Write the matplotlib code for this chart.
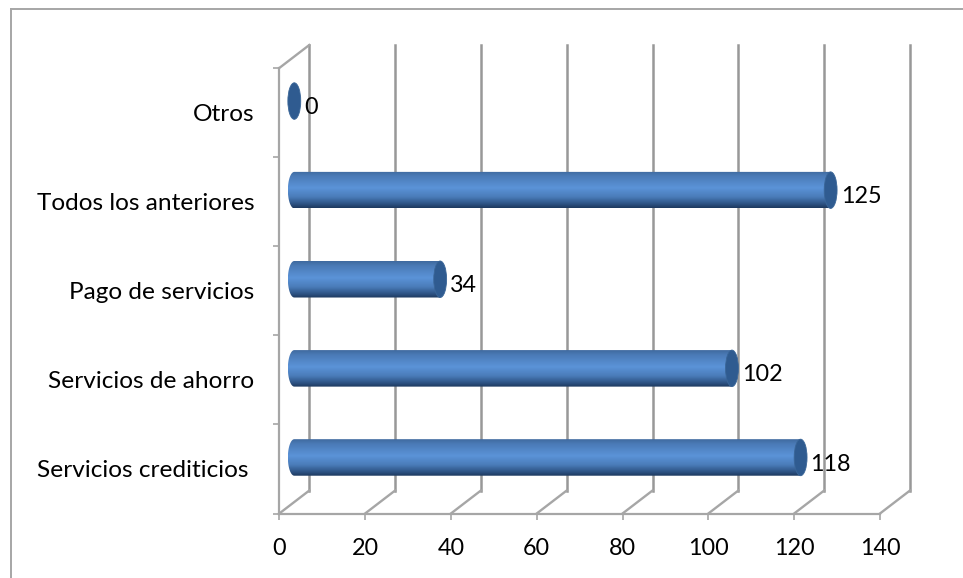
import numpy as np
import matplotlib
matplotlib.use("Agg")
import matplotlib.pyplot as plt
from matplotlib.colors import LinearSegmentedColormap
from matplotlib.patches import Ellipse, Polygon
from matplotlib.transforms import Affine2D, IdentityTransform

plt.rcParams['font.family'] = ['Lato', 'DejaVu Sans']

# categorias de abajo hacia arriba
categorias = ["Servicios crediticios ", "Servicios de ahorro", "Pago de servicios",
              "Todos los anteriores", "Otros"]
valores = [118, 102, 34, 125, 0]
ticks_x = [0, 20, 40, 60, 80, 100, 120, 140]

W, H = 963, 578
fig = plt.figure(figsize=(W / 100, H / 100), dpi=100)
x0, x1, y_sup, y_inf = 279.3, 880, 68, 513.5
ax = fig.add_axes([x0 / W, 1 - y_inf / H, (x1 - x0) / W, (y_inf - y_sup) / H])
ax.patch.set_visible(False)

y_min, y_max = -0.5, len(categorias) - 0.5
ax.set_xlim(0, 140)
ax.set_ylim(y_min, y_max)

gris = "#a6a6a6"
gris_osc = "#989898"

# profundidad de la caja 3d, en pixeles
prof_x, prof_y = 30, 23
fondo = ax.transData + Affine2D().translate(prof_x, prof_y)
medio = ax.transData + Affine2D().translate(prof_x / 2, prof_y / 2)
pixeles = IdentityTransform()

for t in ticks_x:
    # pared del fondo y piso
    ax.plot([t, t], [y_min, y_max], color=gris_osc, lw=1.8, transform=fondo, clip_on=False, zorder=1)
    px, py = ax.transData.transform((t, y_min))
    ax.plot([px, px + prof_x], [py, py + prof_y], color=gris, lw=1.7,
            transform=pixeles, clip_on=False, zorder=1)

# diagonal superior izquierda
px, py = ax.transData.transform((0, y_max))
ax.plot([px, px + prof_x], [py, py + prof_y], color=gris, lw=1.7, transform=pixeles, clip_on=False, zorder=1)

# degradado del cilindro
cmap = LinearSegmentedColormap.from_list("cil", [
    (0.0, "#3f6a9f"), (0.12, "#4a7ab6"), (0.45, "#5b93d8"), (0.7, "#4a7cb9"),
    (0.88, "#2f5688"), (1.0, "#1e3a60")])
grad = np.linspace(0, 1, 64).reshape(-1, 1)

semi_alto = 0.205
semi_ancho = 1.5
th = np.linspace(np.pi / 2, 3 * np.pi / 2, 40)

for i, v in enumerate(valores):
    if v > 0:
        xs = np.concatenate([semi_ancho * np.cos(th), [v, v]])
        ys = np.concatenate([i + semi_alto * np.sin(th), [i - semi_alto, i + semi_alto]])
        forma = Polygon(np.column_stack([xs, ys]), closed=True, facecolor="none", edgecolor="none",
                        transform=medio, zorder=3)
        ax.add_patch(forma)
        img = ax.imshow(grad, cmap=cmap, aspect="auto", origin="upper", zorder=3,
                        extent=(-semi_ancho, v, i - semi_alto, i + semi_alto), transform=medio)
        img.set_clip_path(forma)
    # tapa del cilindro
    ax.add_patch(Ellipse((v, i), 2 * semi_ancho, 2 * semi_alto, facecolor="#2f5b90", edgecolor="#3a6698",
                         lw=0.6, transform=medio, zorder=4, clip_on=False))
    ax.annotate(str(v), xy=(v, i), xytext=(18, 3.5), textcoords="offset points", xycoords="data",
                fontsize=16.8, color="black", va="center", ha="left", zorder=5)

ax.set_xlim(0, 140)
ax.set_ylim(y_min, y_max)

for lado in ["top", "right"]:
    ax.spines[lado].set_visible(False)
for lado in ["left", "bottom"]:
    ax.spines[lado].set_color(gris)
    ax.spines[lado].set_linewidth(1.6)

ax.set_xticks(ticks_x)
ax.tick_params(axis="x", length=4.5, width=1.2, color=gris, labelsize=16.8, pad=13)
ax.set_yticks(np.arange(y_min, y_max + 1))
ax.set_yticklabels([])
ax.set_yticks(np.arange(len(categorias)), minor=True)
ax.set_yticklabels(categorias, minor=True, fontsize=17.6)
ax.tick_params(axis="y", which="major", length=4.5, width=1.2, color=gris)
ax.tick_params(axis="y", which="minor", length=0, pad=18)

# marco exterior del grafico
fig.add_artist(plt.Line2D([10.5 / W, 10.5 / W], [0, 1 - 8.5 / H], color=gris, lw=1.4))
fig.add_artist(plt.Line2D([10.5 / W, 1], [1 - 8.5 / H, 1 - 8.5 / H], color=gris, lw=1.4))

fig.savefig("out.png", dpi=100)
